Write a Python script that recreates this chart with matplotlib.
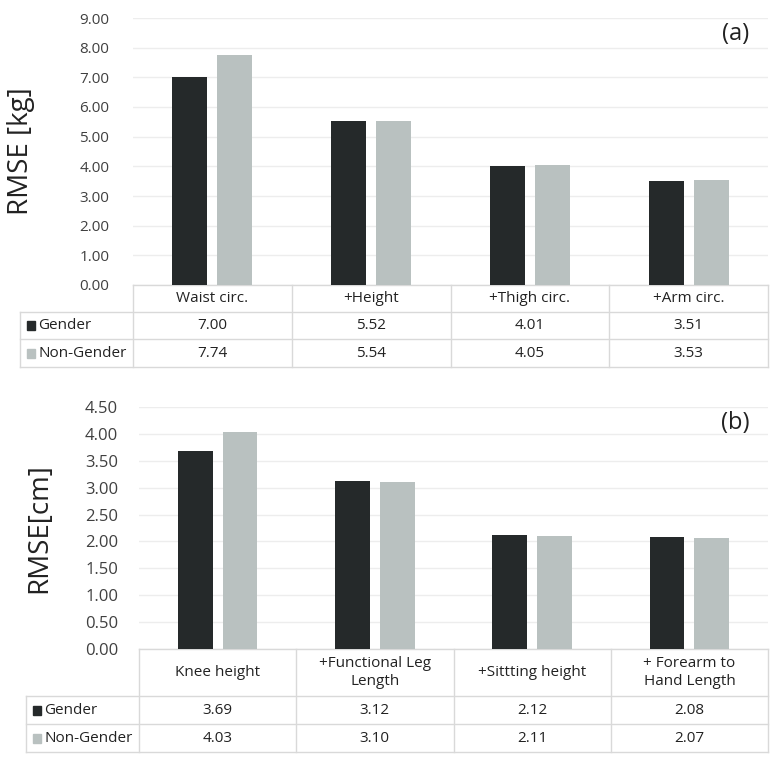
import numpy as np
import matplotlib.pyplot as plt
from matplotlib.transforms import blended_transform_factory

plt.rcParams['font.family'] = ['Open Sans', 'DejaVu Sans']

# data
cats_a = ['Waist circ.', '+Height', '+Thigh circ.', '+Arm circ.']
gender_a = [7.00, 5.52, 4.01, 3.51]
nongender_a = [7.74, 5.54, 4.05, 3.53]

cats_b = ['Knee height', '+Functional Leg\nLength', '+Sittting height', '+ Forearm to\nHand Length']
gender_b = [3.69, 3.12, 2.12, 2.08]
nongender_b = [4.03, 3.10, 2.11, 2.07]

series_names = ['Gender', 'Non-Gender']
colors = ['#25292A', '#B9C1C0']
txt = '#404040'
line_c = '#D9D9D9'
grid_c = '#EDEDED'

W, H = 776, 757
fig = plt.figure(figsize=(W / 100, H / 100), dpi=100)


def panel(left, right, top, bottom, ymax, ystep, cats, g, ng, ylabel, tag,
          ylab_x, row_px, head_px, table_left, tick_pad, tick_fs):
    ax = fig.add_axes([left / W, 1 - bottom / H, (right - left) / W, (bottom - top) / H])
    ax_h = bottom - top
    x = np.arange(len(cats))
    bw = 0.22
    off = 0.142
    ax.bar(x - off, g, bw, color=colors[0], zorder=3)
    ax.bar(x + off, ng, bw, color=colors[1], zorder=3)
    ax.set_xlim(-0.5, len(cats) - 0.5)
    ax.set_ylim(0, ymax)
    ax.set_yticks(np.arange(0, ymax + 1e-9, ystep))
    ax.set_yticklabels([f'{v:.2f}' for v in np.arange(0, ymax + 1e-9, ystep)])
    ax.tick_params(axis='y', length=0, labelsize=tick_fs, labelcolor=txt, pad=tick_pad)
    ax.set_xticks([])
    for s in ax.spines.values():
        s.set_visible(False)
    ax.grid(axis='y', color=grid_c, lw=1, zorder=0)
    ax.text(0.97, 1 - 16 / ax_h, tag, transform=ax.transAxes, ha='right', va='center',
            fontsize=17, color='#222222')
    fig.text(ylab_x / W, 1 - (top + bottom) / 2 / H, ylabel, rotation=90, ha='center',
             va='center', fontsize=20, color='#222222')

    # data table under the axis
    tr = blended_transform_factory(ax.transData, ax.transAxes)
    px = 1.0 / ax_h
    y0 = 0
    y1 = -head_px * px
    y2 = y1 - row_px * px
    y3 = y2 - row_px * px
    xl = -0.5 - (left - table_left) / ((right - left) / len(cats))
    xr = len(cats) - 0.5
    kw = dict(transform=tr, color=line_c, lw=1, clip_on=False)
    ax.plot([-0.5, xr], [y0, y0], **kw)
    for yy in (y1, y2, y3):
        ax.plot([xl, xr], [yy, yy], **kw)
    for xx in np.arange(-0.5, xr + 0.01, 1):
        ax.plot([xx, xx], [y0, y3], **kw)
    ax.plot([xl, xl], [y1, y3], **kw)
    for i, c in enumerate(cats):
        ax.text(i, (y0 + y1) / 2, c, transform=tr, ha='center', va='center',
                fontsize=11, color='#222222', linespacing=1.3)
        ax.text(i, (y1 + y2) / 2, f'{g[i]:.2f}', transform=tr, ha='center', va='center',
                fontsize=11, color='#222222')
        ax.text(i, (y2 + y3) / 2, f'{ng[i]:.2f}', transform=tr, ha='center', va='center',
                fontsize=11, color='#222222')
    unit = (right - left) / len(cats)
    for k, (name, yc) in enumerate(zip(series_names, [(y1 + y2) / 2, (y2 + y3) / 2])):
        sx = xl + 7 / unit
        ax.add_patch(plt.Rectangle((sx, yc - 4.5 * px), 8 / unit, 9 * px, transform=tr,
                                   color=colors[k], clip_on=False))
        ax.text(sx + 11 / unit, yc, name, transform=tr, ha='left', va='center',
                fontsize=11, color='#222222')
    return ax


panel(133, 768, 18, 285, 9, 1.0, cats_a, gender_a, nongender_a, 'RMSE [kg]', '(a)',
      21, 27.5, 27, 20, 17, 11)
panel(139, 768, 407, 649, 4.5, 0.5, cats_b, gender_b, nongender_b, 'RMSE[cm]', '(b)',
      39, 28, 47, 26, 15, 12)

fig.savefig('out.png', dpi=100)
